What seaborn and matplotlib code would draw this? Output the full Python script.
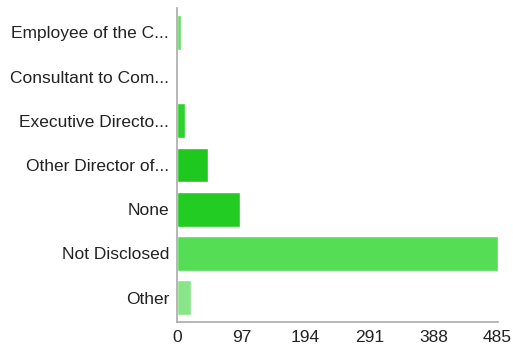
import matplotlib
matplotlib.use("Agg")
import matplotlib.pyplot as plt
import seaborn as sns
import pandas as pd

categories = ["Employee of the C...", "Consultant to Com...", "Executive Directo...",
              "Other Director of...", "None", "Not Disclosed", "Other"]
values = [5, 0, 11, 46, 95, 485, 20]
colors = ["#66dd66", "#44d444", "#2ad42a", "#1ec81e", "#22cc22", "#55dd55", "#88e688"]
xticks = [0, 97, 194, 291, 388, 485]

df = pd.DataFrame({"category": categories, "value": values})

sns.set_style("white")
plt.rcParams["font.family"] = ["Liberation Sans", "DejaVu Sans"]

fig = plt.figure(figsize=(5.13, 3.47), dpi=100)
ax = fig.add_axes([0.346, 0.072, 0.624, 0.905])

sns.barplot(data=df, x="value", y="category", hue="category", palette=colors,
            legend=False, orient="h", width=0.79, ax=ax, saturation=1)

ax.set_xlim(0, 485)
ax.set_ylim(6.55, -0.55)
ax.set_xticks(xticks)
ax.set_xticklabels([str(t) for t in xticks], fontsize=12.5, color="#222222")
ax.tick_params(axis="y", labelsize=12.5, colors="#999999", labelcolor="#222222",
               length=5, width=1, pad=1)
ax.tick_params(axis="x", colors="#999999", labelcolor="#222222", length=4, width=1, pad=2)
ax.set_xlabel("")
ax.set_ylabel("")
for s in ["top", "right"]:
    ax.spines[s].set_visible(False)
for s in ["left", "bottom"]:
    ax.spines[s].set_color("#aaaaaa")
    ax.spines[s].set_linewidth(1.2)

fig.savefig("out.png", dpi=100)
